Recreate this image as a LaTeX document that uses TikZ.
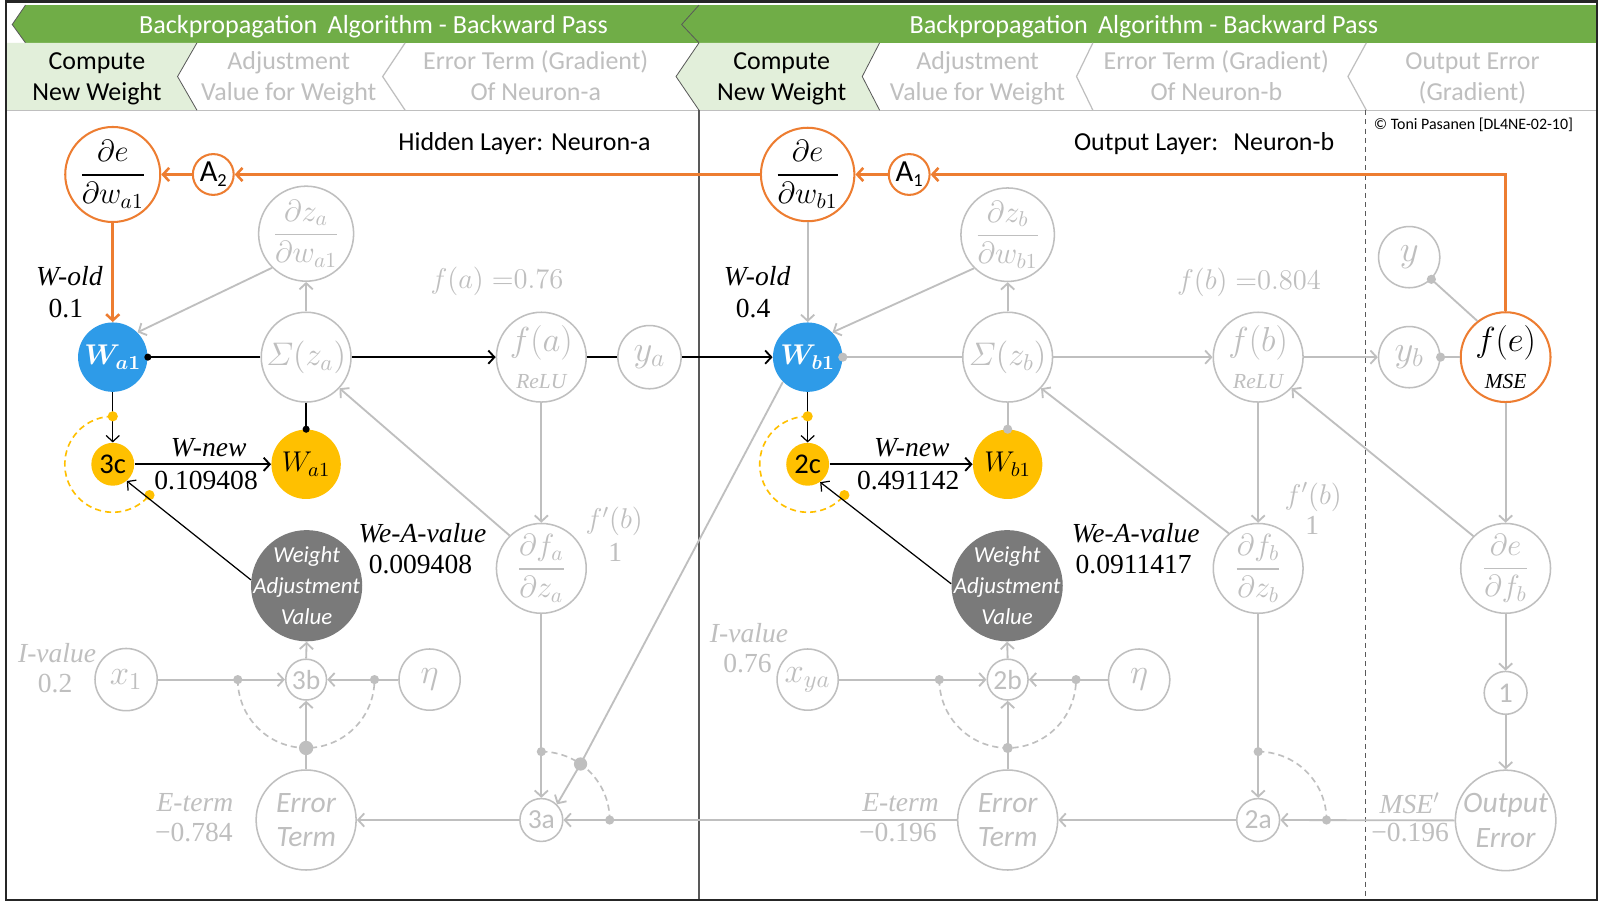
\RequirePackage{fix-cm}
\documentclass[tikz,border=0pt]{standalone}
\usepackage{amsmath}
\usepackage{fontspec}
\setmainfont{Carlito}
\newfontfamily\tnr{Liberation Serif}
\usetikzlibrary{arrows.meta}
\definecolor{lg}{HTML}{BFBFBF}
\definecolor{org}{HTML}{ED7D31}
\definecolor{blu}{HTML}{2E9BE8}
\definecolor{yel}{HTML}{FFC000}
\definecolor{dgr}{HTML}{7A7A7A}
\definecolor{grn}{HTML}{70AD47}
\definecolor{lgrn}{HTML}{E2EFDA}
\definecolor{edg}{HTML}{595959}
\newcommand{\myfs}[1]{\fontsize{#1}{#1}\selectfont}
\newcommand{\myfsb}[2]{\fontsize{#1}{#2}\selectfont}
\begin{document}
\begin{tikzpicture}[x=0.5pt,y=-0.5pt,
  tip/.style={-{Straight Barb[length=3pt,width=6.5pt]}},
  gnode/.style={circle, draw=lg, line width=0.75pt, fill=white, text=lg, inner sep=0pt},
  onode/.style={circle, draw=org, line width=1pt, fill=white, text=black, inner sep=0pt},
  ynode/.style={circle, fill=yel, text=black, inner sep=0pt},
  ga/.style={draw=lg, line width=0.9pt, tip},
  gl/.style={draw=lg, line width=0.9pt},
  ba/.style={draw=black, line width=0.9pt, tip},
  bl/.style={draw=black, line width=0.9pt},
  tba/.style={draw=black, line width=0.6pt, tip},
  oa/.style={draw=org, line width=1.25pt, tip},
  gdash/.style={draw=lg, line width=0.8pt, dash pattern=on 3pt off 2pt},
  ydash/.style={draw=yel, line width=0.8pt, dash pattern=on 3pt off 2pt},
  gdot/.style={circle, fill=lg, inner sep=0pt, minimum size=4.5pt},
  bdot/.style={circle, fill=black, inner sep=0pt, minimum size=3.5pt},
  ydot/.style={circle, fill=yel, inner sep=0pt, minimum size=5pt},
  lab/.style={font=\tnr\itshape\myfs{13.5}, inner sep=0pt},
  num/.style={font=\tnr\myfs{13.5}, inner sep=0pt},
  tabtxt/.style={font=\myfsb{12.7}{15.5}, align=center, inner sep=0pt},
  wavtxt/.style={text=white, font=\itshape\myfsb{11.2}{15.3}, align=center, inner sep=0pt},
]
\useasboundingbox (0,0) rectangle (1568,884);
\fill[white] (0,0) rectangle (1568,884);

% ---------- header ----------
\fill[grn] (25,5) -- (700,5) -- (700,42) -- (25,42) -- (12,24) -- cycle;
\draw[edg, line width=0.4pt] (25,5) -- (12,24) -- (25,42);
\fill[grn] (685,5) -- (1565,5) -- (1565,42) -- (685,42) -- (668,24) -- cycle;
\draw[edg, line width=0.4pt] (685,5) -- (668,24) -- (685,42);
\node[font=\myfs{12.8}, text=white, inner sep=0pt] (ban1) at (366,26.5) {Backpropagation\, Algorithm - Backward Pass};
\node[font=\myfs{12.8}, text=white, inner sep=0pt] (ban2) at (1121,26.5) {Backpropagation\, Algorithm - Backward Pass};

\fill[lgrn] (6,42) -- (193,42) -- (174,75) -- (193,108) -- (6,108) -- cycle;
\fill[lgrn] (685,42) -- (862,42) -- (845,75) -- (862,108) -- (685,108) -- (662.5,75) -- cycle;
\draw[lg, line width=0.6pt] (6,108) -- (1565,108);
\draw[edg, line width=0.4pt] (193,42) -- (174,75) -- (193,108);
\draw[lg, line width=0.6pt] (397,42) -- (375,75) -- (397,108);
\draw[edg, line width=0.4pt] (685,42) -- (662.5,75) -- (685,108);
\draw[edg, line width=0.4pt] (862,42) -- (845,75) -- (862,108);
\draw[lg, line width=0.6pt] (1071,42) -- (1055,75) -- (1071,108);
\draw[lg, line width=0.6pt] (1339,42) -- (1321,75) -- (1339,108);

\node[tabtxt] (t1) at (95,77) {\strut Compute\\\strut New Weight};
\node[tabtxt, text=lg] (t2) at (283,77) {\strut Adjustment\\\strut Value for Weight};
\node[tabtxt, text=lg] (t3) at (525,77) {\strut Error Term (Gradient)\\\strut Of Neuron-a};
\node[tabtxt] (t4) at (766,77) {\strut Compute\\\strut New Weight};
\node[tabtxt, text=lg] (t5) at (958,77) {\strut Adjustment\\\strut Value for Weight};
\node[tabtxt, text=lg] (t6) at (1192,77) {\strut Error Term (Gradient)\\\strut Of Neuron-b};
\node[tabtxt, text=lg] (t7) at (1443,77) {\strut Output Error\\\strut (Gradient)};

% dividers and frame
\draw[edg, line width=0.6pt] (685,108) -- (685,882);
\draw[edg, line width=0.6pt, dash pattern=on 2.5pt off 2pt] (1338,108) -- (1338,882);
\draw[black!85, line width=1.2pt] (6,1.5) rectangle (1565,882);

\node[font=\myfs{7.8}, inner sep=0pt] (copy) at (1444,122) {© Toni Pasanen [DL4NE-02-10]};
\node[font=\myfs{12.7}, inner sep=0pt] (hl) at (514,140.5) {Hidden Layer: Neuron-a};
\node[font=\myfs{12.7}, inner sep=0pt] (ol) at (1180,140.5) {Output Layer:\; Neuron-b};

% ---------- nodes: left (neuron a) ----------
\node[onode, minimum size=44pt, font=\myfs{15}] (dea) at (110.5,171) {$\dfrac{\partial e}{\partial w_{a1}}$};
\node[onode, minimum size=20pt, font=\myfs{15}] (A2) at (209,171) {A{\myfs{9}\raisebox{-2.5pt}{2}}};
\node[gnode, minimum size=44pt, font=\myfs{15}] (dza) at (300,229) {$\dfrac{\partial z_a}{\partial w_{a1}}$};
\node[circle, fill=blu, inner sep=0pt, minimum size=34pt, text=white, font=\myfs{14}] (wa) at (110.5,350) {$\boldsymbol{W_{a1}}$};
\node[gnode, minimum size=44pt, font=\myfs{16}] (sza) at (300,350) {$\varSigma(z_a)$};
\node[gnode, minimum size=44pt, font=\myfs{17}, align=center] (fa) at (530.5,350) {$f(a)$\\[1.4pt]{\tnr\itshape\myfs{10.5}ReLU}};
\node[gnode, minimum size=31pt, font=\myfs{18}] (ya) at (636.5,350) {$y_a$};
\node[ynode, minimum size=21pt, font=\myfs{14}] (c3) at (110.5,455) {3c};
\node[ynode, minimum size=34pt, font=\myfs{14}] (wan) at (300,455) {$W_{a1}$};
\node[circle, fill=dgr, inner sep=0pt, minimum size=54.5pt] (wav) at (300.5,574) {};
\node[wavtxt] (wavt) at (wav.center) {Weight\\Adjustment\\Value};
\node[gnode, minimum size=44pt, font=\myfs{15}] (dfa) at (530.5,557) {$\dfrac{\partial f_a}{\partial z_a}$};
\node[gnode, minimum size=30.5pt, font=\myfs{17}] (x1) at (123.6,666) {$x_1$};
\node[gnode, minimum size=20pt, font=\myfs{13.5}] (b3) at (300,666) {3b};
\node[gnode, minimum size=30pt, font=\myfs{17}] (eta1) at (421,666) {$\eta$};
\node[gnode, minimum size=49pt, font=\itshape\myfsb{14.5}{17}, align=center] (ea) at (300,803.6) {Error\\Term};
\node[gnode, minimum size=21pt, font=\myfs{13.5}] (a3) at (530.5,803.6) {3a};

% ---------- nodes: right (neuron b) ----------
\node[onode, minimum size=44pt, font=\myfs{15}] (deb) at (791.5,171) {$\dfrac{\partial e}{\partial w_{b1}}$};
\node[onode, minimum size=20pt, font=\myfs{15}] (A1) at (891,171) {A{\myfs{9}\raisebox{-2.5pt}{1}}};
\node[gnode, minimum size=44pt, font=\myfs{15}] (dzb) at (987.5,230) {$\dfrac{\partial z_b}{\partial w_{b1}}$};
\node[circle, fill=blu, inner sep=0pt, minimum size=34pt, text=white, font=\myfs{14}] (wb) at (791.5,350) {$\boldsymbol{W_{b1}}$};
\node[gnode, minimum size=44pt, font=\myfs{16}] (szb) at (987.5,350) {$\varSigma(z_b)$};
\node[gnode, minimum size=44pt, font=\myfs{17}, align=center] (fb) at (1233,350) {$f(b)$\\[1.4pt]{\tnr\itshape\myfs{10.5}ReLU}};
\node[gnode, minimum size=30pt, font=\myfs{18}] (yb) at (1381,350) {$y_b$};
\node[gnode, minimum size=30pt, font=\myfs{18}] (yy) at (1381,252) {$y$};
\node[onode, minimum size=44pt, font=\myfs{17}, align=center] (fe) at (1475.5,350) {$f(e)$\\[1.4pt]{\tnr\itshape\myfs{10.5}MSE}};
\node[ynode, minimum size=21pt, font=\myfs{14}] (c2) at (791.5,455) {2c};
\node[ynode, minimum size=34pt, font=\myfs{14}] (wbn) at (987.5,455) {$W_{b1}$};
\node[circle, fill=dgr, inner sep=0pt, minimum size=54.5pt] (wbv) at (987,574) {};
\node[wavtxt] (wbvt) at (wbv.center) {Weight\\Adjustment\\Value};
\node[gnode, minimum size=44pt, font=\myfs{15}] (dfb) at (1233,557) {$\dfrac{\partial f_b}{\partial z_b}$};
\node[gnode, minimum size=44pt, font=\myfs{15}] (deF) at (1475.5,557) {$\dfrac{\partial e}{\partial f_b}$};
\node[gnode, minimum size=21pt, font=\myfs{14}] (one) at (1475.5,679) {1};
\node[gnode, minimum size=48pt, font=\itshape\myfsb{14.5}{17}, align=center] (oe) at (1475.5,804) {Output\\Error};
\node[gnode, minimum size=30pt, font=\myfs{17}] (xya) at (791.5,666) {$x_{ya}$};
\node[gnode, minimum size=20pt, font=\myfs{13.5}] (b2) at (987.5,666) {2b};
\node[gnode, minimum size=30pt, font=\myfs{17}] (eta2) at (1116.4,666) {$\eta$};
\node[gnode, minimum size=49pt, font=\itshape\myfsb{14.5}{17}, align=center] (eb) at (987.5,803.6) {Error\\Term};
\node[gnode, minimum size=21pt, font=\myfs{13.5}] (a2) at (1233,803.6) {2a};

% ---------- labels ----------
\node[lab] (wo1) at (68,271) {W-old};
\node[num] (wo1v) at (64.5,302) {0.1};
\node[lab] (wo2) at (742,271) {W-old};
\node[num] (wo2v) at (738,302) {0.4};
\node[lab] (wn1) at (204.5,439) {W-new};
\node[num] (wn1v) at (202,470.5) {0.109408};
\node[lab] (wn2) at (893.5,439) {W-new};
\node[num] (wn2v) at (890,470.5) {0.491142};
\node[lab] (wea1) at (414,522) {We-A-value};
\node[num] (wea1v) at (412,553.5) {0.009408};
\node[lab] (wea2) at (1113,522) {We-A-value};
\node[num] (wea2v) at (1111,553.5) {0.0911417};
\node[font=\myfs{14}, text=lg, inner sep=0pt] (fav) at (487,276) {$f(a)\;{=}0.76$};
\node[font=\myfs{14}, text=lg, inner sep=0pt] (fbv) at (1224,277) {$f(b)\;{=}0.804$};
\node[font=\myfs{14}, text=lg, inner sep=0pt] (fp1) at (602,511) {$f'(b)$};
\node[num, text=lg] (fp1v) at (603,541) {1};
\node[font=\myfs{14}, text=lg, inner sep=0pt] (fp2) at (1287,487) {$f'(b)$};
\node[num, text=lg] (fp2v) at (1286,515) {1};
\node[lab, text=lg] (iv1) at (56,640) {I-value};
\node[num, text=lg] (iv1v) at (54,669.5) {0.2};
\node[lab, text=lg] (iv2) at (734,620.5) {I-value};
\node[num, text=lg] (iv2v) at (732.5,650.5) {0.76};
\node[lab, text=lg] (et1) at (191,787) {E-term};
\node[num, text=lg] (et1v) at (190,816) {−0.784};
\node[lab, text=lg] (et2) at (882.5,787) {E-term};
\node[num, text=lg] (et2v) at (880,816) {−0.196};
\node[lab, text=lg] (mse) at (1381.5,787) {MSE$'$};
\node[num, text=lg] (msev) at (1382,816) {−0.196};

% ---------- connectors ----------
% orange backward path
\draw[oa] (fe.north) |- (A1.east);
\draw[oa] (A1.west) -- (deb.east);
\draw[oa] (deb.west) -- (A2.east);
\draw[oa] (A2.west) -- (dea.east);
\draw[oa] (dea.south) -- (wa.north);

% upper grey
\draw[ga] (deb.south) -- (wb.north);
\draw[ga] (dza.225) -- (wa.45);
\draw[ga] (dzb.225) -- (wb.45);
\draw[ga] (sza.north) -- (dza.south);
\draw[ga] (szb.north) -- (dzb.south);

% main row
\draw[bl] (wa.east) -- (sza.west);
\node[bdot] (dwa) at (wa.east) {};
\draw[ba] (sza.east) -- (fa.west);
\draw[bl] (fa.east) -- (ya.west);
\draw[ba] (ya.east) -- (wb.west);
\draw[gl] (wb.east) -- (szb.west);
\node[gdot] (dwb) at (wb.east) {};
\draw[ga] (szb.east) -- (fb.west);
\draw[ga] (fb.east) -- (yb.west);
\draw[gl] (yb.east) -- (fe.west);
\node[gdot] (dyb) at (yb.east) {};
\draw[gl] (yy.-45) -- (fe.128);
\node[gdot] (dyy) at (yy.-45) {};

% new weight
\draw[bl] (sza.south) -- (wan.north);
\node[bdot] (dwan) at (wan.north) {};
\draw[gl] (szb.south) -- (wbn.north);
\node[gdot] (dwbn) at (wbn.north) {};
\draw[ydash] plot[domain=90:320, samples=50] ({110.5+47*cos(\x)}, {455-47*sin(\x)});
\draw[ydash] plot[domain=90:320, samples=50] ({791.5+47*cos(\x)}, {455-47*sin(\x)});
\draw[tba] (wa.south) -- (c3.north);
\draw[tba] (wb.south) -- (c2.north);
\node[ydot] (yd1) at (110.5,408) {};
\node[ydot] (yd2) at ({110.5+47*cos(320)}, {455-47*sin(320)}) {};
\node[ydot] (yd3) at (791.5,408) {};
\node[ydot] (yd4) at ({791.5+47*cos(320)}, {455-47*sin(320)}) {};
\draw[ba] (c3.east) -- (wan.west);
\draw[ba] (c2.east) -- (wbn.west);
\draw[tba] (wav.174) -- (c3.-50);
\draw[tba] (wbv.178) -- (c2.-55);

% derivative chain
\draw[ga] (fa.south) -- (dfa.north);
\draw[ga] (fb.south) -- (dfb.north);
\draw[ga] (dfa.134) -- (sza.-43);
\draw[ga] (dfb.130) -- (szb.-43);
\draw[ga] (deF.135) -- (fb.-43);
\draw[ga] (fe.south) -- (deF.north);
\draw[ga] (deF.south) -- (one.north);
\draw[ga] (one.south) -- (oe.north);

% bottom row
\draw[ga] (oe.west) -- (a2.east);
\draw[ga] (a2.west) -- (eb.east);
\draw[ga] (eb.west) -- (a3.east);
\draw[ga] (a3.west) -- (ea.east);
\draw[ga] (dfa.south) -- (a3.north);
\draw[ga] (dfb.south) -- (a2.north);
\coordinate (dw) at ({530.5+67*cos(55)}, {803.6-67*sin(55)});
\draw[gl] (wb.225) -- (dw);
\draw[ga] (dw) -- (a3.45);
\draw[gdash] plot[domain=90:0, samples=40] ({530.5+67*cos(\x)}, {803.6-67*sin(\x)});
\draw[gdash] plot[domain=90:0, samples=40] ({1233+67*cos(\x)}, {803.6-67*sin(\x)});
\node[gdot] (g1) at (530.5,736.6) {};
\node[gdot, minimum size=6.5pt] (g2) at (dw) {};
\node[gdot] (g3) at (597.5,803.6) {};
\node[gdot] (g4) at (1233,736.6) {};
\node[gdot] (g5) at (1300,803.6) {};

% input / learning rate
\draw[ga] (ea.north) -- (b3.south);
\draw[ga] (eb.north) -- (b2.south);
\draw[ga] (x1.east) -- (b3.west);
\draw[ga] (eta1.west) -- (b3.east);
\draw[ga] (xya.east) -- (b2.west);
\draw[ga] (eta2.west) -- (b2.east);
\draw[ga] (b3.north) -- (wav.south);
\draw[ga] (b2.north) -- (wbv.south);
\draw[gdash] plot[domain=180:360, samples=60] ({300+67*cos(\x)}, {666-67*sin(\x)});
\draw[gdash] plot[domain=180:360, samples=60] ({987.5+67*cos(\x)}, {666-67*sin(\x)});
\node[gdot] (h1) at (233,666) {};
\node[gdot] (h2) at (367,666) {};
\node[gdot, minimum size=7pt] (h3) at (300,733) {};
\node[gdot] (h4) at (920.5,666) {};
\node[gdot] (h5) at (1054.5,666) {};
\node[gdot, minimum size=5pt] (h6) at (987.5,733) {};
\end{tikzpicture}
\end{document}
